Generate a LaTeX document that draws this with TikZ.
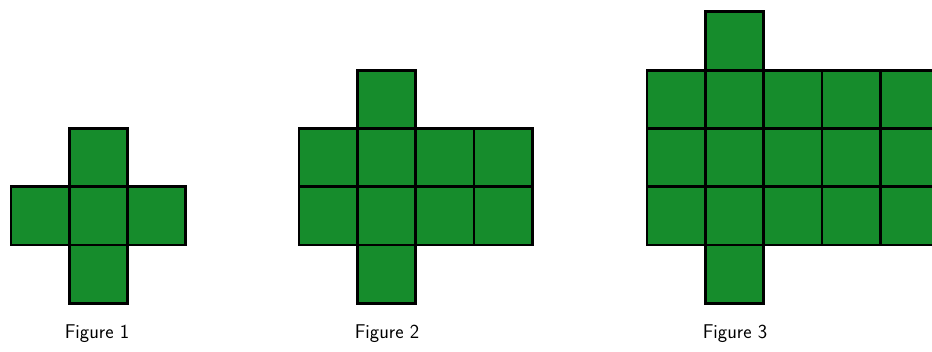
\documentclass[tikz,border=0pt]{standalone}
\usepackage{tikz}
\usetikzlibrary{positioning}
\definecolor{tilegreen}{HTML}{168C2C}

\begin{document}
\begin{tikzpicture}[
    x=0.03cm, y=-0.03cm,
    tile/.style={draw=black, fill=tilegreen, line width=2.4pt, line join=miter},
    caption/.style={font=\sffamily\fontsize{17}{20}\selectfont, anchor=base}
]
\useasboundingbox (0,0) rectangle (932,351);
\clip (0,0) rectangle (932,351);
\def\side{58.3}
% Figure 1: a plus of five tiles
\foreach \r/\c in {0/1, 1/0, 1/1, 1/2, 2/1}
  \draw[tile] (11+\c*\side, 128.4+\r*\side) rectangle ++(\side,\side);
% Figure 2: two full rows of four
\foreach \r/\c in {0/1, 1/0, 1/1, 1/2, 1/3, 2/0, 2/1, 2/2, 2/3, 3/1}
  \draw[tile] (299+\c*\side, 70.1+\r*\side) rectangle ++(\side,\side);
% Figure 3: three full rows of five
\foreach \r/\c in {0/1, 1/0, 1/1, 1/2, 1/3, 1/4, 2/0, 2/1, 2/2, 2/3, 2/4, 3/0, 3/1, 3/2, 3/3, 3/4, 4/1}
  \draw[tile] (647+\c*\side, 11.8+\r*\side) rectangle ++(\side,\side);
\node[caption] (fig1) at (97,338) {Figure 1};
\node[caption] (fig2) at (387,338) {Figure 2};
\node[caption] (fig3) at (735,338) {Figure 3};
\end{tikzpicture}
\end{document}
